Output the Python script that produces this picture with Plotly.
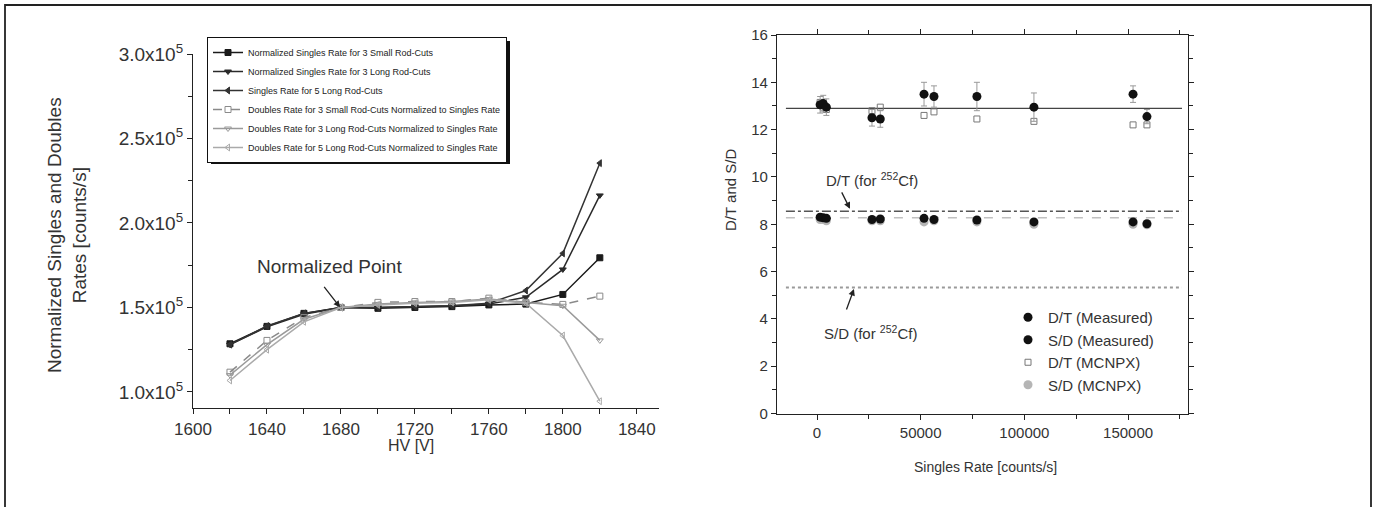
import plotly.graph_objects as go

W, H = 1376, 507

# ---------------- left chart data ----------------
hv = [1620, 1640, 1660, 1680, 1700, 1720, 1740, 1760, 1780, 1800, 1820]
singles_small3 = [1.285e5, 1.388e5, 1.465e5, 1.50e5, 1.495e5, 1.50e5, 1.505e5, 1.515e5, 1.52e5, 1.577e5, 1.794e5]
singles_long3 = [1.28e5, 1.385e5, 1.46e5, 1.50e5, 1.50e5, 1.505e5, 1.51e5, 1.52e5, 1.56e5, 1.725e5, 2.163e5]
singles_long5 = [1.28e5, 1.39e5, 1.465e5, 1.50e5, 1.50e5, 1.505e5, 1.51e5, 1.525e5, 1.60e5, 1.82e5, 2.354e5]
doubles_small3 = [1.117e5, 1.305e5, 1.44e5, 1.50e5, 1.53e5, 1.535e5, 1.535e5, 1.555e5, 1.53e5, 1.518e5, 1.567e5]
doubles_long3 = [1.10e5, 1.28e5, 1.43e5, 1.50e5, 1.52e5, 1.53e5, 1.535e5, 1.55e5, 1.53e5, 1.51e5, 1.305e5]
doubles_long5 = [1.068e5, 1.25e5, 1.415e5, 1.50e5, 1.515e5, 1.525e5, 1.53e5, 1.545e5, 1.525e5, 1.334e5, 0.945e5]

left_yticks = [1.0e5, 1.5e5, 2.0e5, 2.5e5, 3.0e5]
left_yticktext = ["1.0x10<sup>5</sup>", "1.5x10<sup>5</sup>", "2.0x10<sup>5</sup>",
                  "2.5x10<sup>5</sup>", "3.0x10<sup>5</sup>"]
left_yminor = [1.25e5, 1.75e5, 2.25e5, 2.75e5]
left_xticks = [1600, 1640, 1680, 1720, 1760, 1800, 1840]
left_xminor = [1620, 1660, 1700, 1740, 1780, 1820]

# ---------------- right chart data ----------------
singles_rate = [1500, 3000, 4500, 26500, 30500, 51600, 56400, 77100, 104600, 152400, 159100]
dt_measured = [13.05, 13.1, 12.95, 12.5, 12.45, 13.5, 13.4, 13.4, 12.95, 13.5, 12.55]
dt_err = [0.35, 0.35, 0.35, 0.35, 0.35, 0.5, 0.45, 0.6, 0.6, 0.35, 0.3]
dt_mcnpx = [13.15, 12.95, 12.85, 12.8, 12.95, 12.6, 12.75, 12.45, 12.35, 12.2, 12.2]
sd_measured = [8.3, 8.27, 8.25, 8.2, 8.22, 8.25, 8.2, 8.18, 8.1, 8.1, 8.02]
sd_mcnpx = [8.2, 8.2, 8.15, 8.15, 8.15, 8.1, 8.15, 8.1, 8.0, 8.0, 7.98]

line_x = [-15000, 176000]
dt_avg = 12.9
dt_cf = 8.55
sd_avg = 8.27
sd_cf = 5.33

FONT = "Liberation Sans, Arial, sans-serif"
TXT = "#333333"

fig = go.Figure()

def add_left(name, y, color, symbol, dash, width=1.5, msize=6):
    fig.add_trace(go.Scatter(
        x=hv, y=y, name=name, mode="lines+markers",
        line=dict(color=color, width=width, dash=dash),
        marker=dict(symbol=symbol, size=msize, color=color,
                    line=dict(color=color, width=1)),
        xaxis="x", yaxis="y", legend="legend"))

add_left("Normalized Singles Rate for 3 Small Rod-Cuts", singles_small3, "#1a1a1a", "square", "solid")
add_left("Normalized Singles Rate for 3 Long Rod-Cuts", singles_long3, "#2a2a2a", "triangle-down", "solid")
add_left("Singles Rate for 5 Long Rod-Cuts", singles_long5, "#333333", "triangle-left", "solid")
add_left("Doubles Rate for 3 Small Rod-Cuts Normalized to Singles Rate", doubles_small3, "#8a8a8a", "square-open", "dash")
add_left("Doubles Rate for 3 Long Rod-Cuts Normalized to Singles Rate", doubles_long3, "#9a9a9a", "triangle-down-open", "solid")
add_left("Doubles Rate for 5 Long Rod-Cuts Normalized to Singles Rate", doubles_long5, "#aaaaaa", "triangle-left-open", "solid")

# right chart reference lines
fig.add_trace(go.Scatter(x=line_x, y=[sd_cf, sd_cf], mode="lines", showlegend=False,
                         line=dict(color="#9a9a9a", width=2, dash="dot"), xaxis="x2", yaxis="y2"))
fig.add_trace(go.Scatter(x=line_x, y=[sd_avg, sd_avg], mode="lines", showlegend=False,
                         line=dict(color="#c0c0c0", width=1.5, dash="dash"), xaxis="x2", yaxis="y2"))
fig.add_trace(go.Scatter(x=line_x, y=[dt_cf, dt_cf], mode="lines", showlegend=False,
                         line=dict(color="#555555", width=1.5, dash="dashdot"), xaxis="x2", yaxis="y2"))
fig.add_trace(go.Scatter(x=line_x, y=[dt_avg, dt_avg], mode="lines", showlegend=False,
                         line=dict(color="#444444", width=1.2), xaxis="x2", yaxis="y2"))

# right chart markers
fig.add_trace(go.Scatter(x=singles_rate, y=sd_mcnpx, mode="markers", name="S/D (MCNPX)",
                         marker=dict(symbol="circle", size=9, color="#b5b5b5"),
                         xaxis="x2", yaxis="y2", legend="legend2", legendrank=4))
fig.add_trace(go.Scatter(x=singles_rate, y=dt_mcnpx, mode="markers", name="D/T (MCNPX)",
                         marker=dict(symbol="square-open", size=6, color="#777777", line=dict(width=1)),
                         xaxis="x2", yaxis="y2", legend="legend2", legendrank=3))
fig.add_trace(go.Scatter(x=singles_rate, y=dt_measured, mode="markers", name="D/T (Measured)",
                         marker=dict(symbol="circle", size=9, color="#111111"),
                         error_y=dict(type="data", array=dt_err, color="#999999", thickness=1, width=3),
                         xaxis="x2", yaxis="y2", legend="legend2", legendrank=1))
fig.add_trace(go.Scatter(x=singles_rate, y=sd_measured, mode="markers", name="S/D (Measured)",
                         marker=dict(symbol="circle", size=9, color="#111111"),
                         xaxis="x2", yaxis="y2", legend="legend2", legendrank=2))

def px_x(p):
    return p / W

def px_y(p):
    return 1 - p / H

def axis_style(fs):
    return dict(showline=True, linecolor="#222222", linewidth=1.2, ticks="outside",
                tickcolor="#222222", ticklen=5, tickwidth=1.2, showgrid=False, zeroline=False,
                automargin=False, tickfont=dict(family=FONT, size=fs, color=TXT))

fig.update_layout(
    width=W, height=H, margin=dict(l=0, r=0, t=0, b=0, autoexpand=False),
    paper_bgcolor="white", plot_bgcolor="white",
    font=dict(family=FONT, color=TXT),
    xaxis=dict(domain=[px_x(193), px_x(659)], range=[1600, 1852], anchor="y",
               tickvals=left_xticks,
               minor=dict(tickvals=left_xminor, ticks="outside", ticklen=5, tickcolor="#222222"),
               **axis_style(17)),
    yaxis=dict(domain=[px_y(408), px_y(54)], range=[0.905e5, 3.0e5], anchor="x",
               tickvals=left_yticks, ticktext=left_yticktext,
               minor=dict(tickvals=left_yminor, ticks="outside", ticklen=4, tickcolor="#222222"),
               **axis_style(19)),
    xaxis2=dict(domain=[px_x(777), px_x(1188)], range=[-19300, 178900], anchor="y2",
                tick0=0, dtick=50000, tickformat="d", mirror="ticks",
                minor=dict(dtick=25000, ticks="outside", ticklen=4, tickcolor="#222222"),
                **axis_style(15)),
    yaxis2=dict(domain=[px_y(413.5), px_y(35)], range=[0, 16], anchor="x2",
                tick0=0, dtick=2, mirror="ticks",
                minor=dict(dtick=1, ticks="outside", ticklen=4, tickcolor="#222222"),
                **axis_style(15)),
    legend=dict(x=px_x(207), y=px_y(37), xanchor="left", yanchor="top",
                bgcolor="white", bordercolor="#111111", borderwidth=1,
                font=dict(family=FONT, size=9, color="#222222"),
                itemwidth=30, tracegroupgap=0),
    legend2=dict(x=px_x(1008), y=px_y(301), xanchor="left", yanchor="top",
                 bgcolor="rgba(0,0,0,0)", borderwidth=0,
                 font=dict(family=FONT, size=15, color=TXT),
                 itemwidth=30, traceorder="normal"),
    showlegend=True,
)

# legend shadow and outer frame
fig.add_shape(type="rect", xref="paper", yref="paper",
              x0=px_x(211), x1=px_x(510), y0=px_y(164), y1=px_y(41),
              fillcolor="#111111", line=dict(width=0), layer="below")
fig.add_shape(type="rect", xref="paper", yref="paper",
              x0=px_x(5), x1=px_x(1371), y0=-0.05, y1=px_y(5),
              line=dict(color="#222222", width=1.8), fillcolor="rgba(0,0,0,0)")

annots = [
    dict(text="Normalized Singles and Doubles<br>Rates [counts/s]", x=px_x(67), y=px_y(235),
         textangle=-90, size=19),
    dict(text="HV [V]", x=px_x(411), y=px_y(445), size=16),
    dict(text="D/T and S/D", x=px_x(730), y=px_y(190), textangle=-90, size=15),
    dict(text="Singles Rate [counts/s]", x=px_x(985), y=px_y(467), size=14),
]
for a in annots:
    fig.add_annotation(xref="paper", yref="paper", showarrow=False,
                       xanchor="center", yanchor="middle",
                       font=dict(family=FONT, color=TXT, size=a["size"]),
                       text=a["text"], x=a["x"], y=a["y"], textangle=a.get("textangle", 0))

# callout texts
fig.add_annotation(xref="x", yref="y", x=1674, y=1.743e5, text="Normalized Point", showarrow=False,
                   xanchor="center", yanchor="middle", font=dict(family=FONT, size=19, color=TXT))
fig.add_annotation(xref="x2", yref="y2", x=26500, y=9.9, text="D/T (for <sup>252</sup>Cf)", showarrow=False,
                   xanchor="center", yanchor="middle", font=dict(family=FONT, size=15, color=TXT))
fig.add_annotation(xref="x2", yref="y2", x=26000, y=3.44, text="S/D (for <sup>252</sup>Cf)", showarrow=False,
                   xanchor="center", yanchor="middle", font=dict(family=FONT, size=15, color=TXT))

# callout arrows
arrow_style = dict(showarrow=True, text="", arrowhead=2, arrowsize=1, arrowwidth=1.3, arrowcolor="#222222")
fig.add_annotation(xref="x", yref="y", x=1679.5, y=1.501e5, ax=-17, ay=-22, **arrow_style)
fig.add_annotation(xref="x2", yref="y2", x=15900, y=8.65, ax=-9, ay=-18, **arrow_style)
fig.add_annotation(xref="x2", yref="y2", x=17800, y=5.26, ax=-8, ay=22, **arrow_style)

fig.write_html("out.html", config={"displayModeBar": False},
               post_script="document.body.style.margin='0px';document.body.style.overflow='hidden';")
